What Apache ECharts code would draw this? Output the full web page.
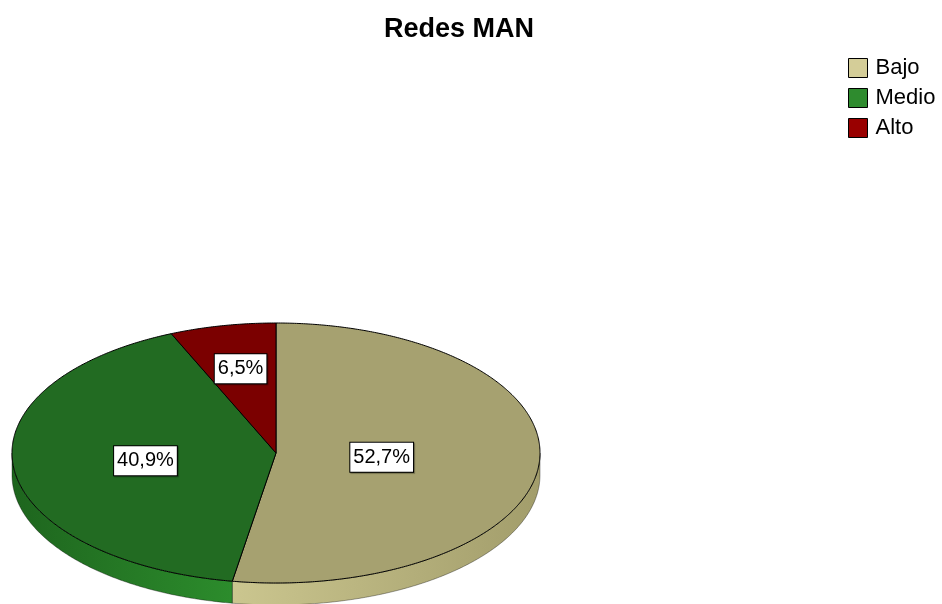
<!DOCTYPE html>
<html>
<head>
<meta charset="utf-8">
<script src="https://cdn.jsdelivr.net/npm/echarts@6/dist/echarts.min.js"></script>
<style>html,body{margin:0;padding:0;background:#fff}#c{width:942px;height:604px}</style>
</head>
<body>
<div id="c"></div>
<script>
const title = 'Redes MAN';
const categories = ['Bajo', 'Medio', 'Alto'];
const percentages = [52.7, 40.9, 6.5];

const topColors = ['#A6A170', '#226B22', '#7B0000'];
const sideLight = ['#CBC68F', '#2C8C2C', '#990000'];
const sideDark = ['#A29D6B', '#1E651E', '#5E0000'];
const legendColors = ['#D4CD98', '#2E8B2E', '#990000'];

const DEPTH = 22;
const FONT = 'Liberation Sans, Arial, sans-serif';

const total = percentages.reduce((a, b) => a + b, 0);
let acc = 0;
const slices = percentages.map(v => {
  const s = acc / total * 360;
  acc += v;
  return [s, acc / total * 360, v];
});

function fmt(v) { return v.toFixed(1).replace('.', ',') + '%'; }

function arcPts(api, a, b, dy) {
  const pts = [];
  const n = Math.max(2, Math.ceil((b - a) / 0.5));
  for (let i = 0; i <= n; i++) {
    const t = (a + (b - a) * i / n) * Math.PI / 180;
    const p = api.coord([Math.sin(t), Math.cos(t)]);
    pts.push([p[0], p[1] + dy]);
  }
  return pts;
}

function makeRender(idx) {
  return function (params, api) {
    const s = api.value(0), e = api.value(1), v = api.value(2);
    const children = [];
    const a = Math.max(s, 90), b = Math.min(e, 270);
    if (a < b) {
      const top = arcPts(api, a, b, 0);
      const bot = arcPts(api, a, b, DEPTH).reverse();
      const leftIsLight = idx === 0;
      children.push({
        type: 'polygon',
        z2: 1,
        shape: { points: top.concat(bot) },
        style: {
          fill: new echarts.graphic.LinearGradient(0, 0, 1, 0, [
            { offset: 0, color: leftIsLight ? sideLight[idx] : sideDark[idx] },
            { offset: 1, color: leftIsLight ? sideDark[idx] : sideLight[idx] }
          ]),
          stroke: 'rgba(0,0,0,0.35)',
          lineWidth: 1
        }
      });
    }
    const c = api.coord([0, 0]);
    const face = [c].concat(arcPts(api, s, e, 0));
    children.push({
      type: 'polygon',
      z2: 2,
      shape: { points: face },
      style: { fill: topColors[idx], stroke: '#000', lineWidth: 1 }
    });
    const half = (e - s) / 2 * Math.PI / 180;
    const d = 2 * Math.sin(half) / (3 * half);
    const m = (s + e) / 2 * Math.PI / 180;
    const lp = api.coord([d * Math.sin(m), d * Math.cos(m)]);
    children.push({
      type: 'text',
      z2: 5,
      x: lp[0], y: lp[1],
      style: {
        text: fmt(v),
        font: '20px ' + FONT,
        fill: '#000',
        align: 'center',
        verticalAlign: 'middle',
        backgroundColor: '#fff',
        borderColor: '#000',
        borderWidth: 1,
        padding: [5, 3, 4, 3],
        shadowColor: 'rgba(0,0,0,0.35)',
        shadowOffsetX: 1,
        shadowOffsetY: 1,
        shadowBlur: 1
      }
    });
    return { type: 'group', children };
  };
}

const chart = echarts.init(document.getElementById('c'), null, { renderer: 'canvas' });
chart.setOption({
  animation: false,
  backgroundColor: '#fff',
  title: {
    text: title,
    left: 384,
    top: 16,
    padding: 0,
    textStyle: { fontFamily: FONT, fontSize: 27, fontWeight: 'bold', color: '#000' }
  },
  legend: {
    orient: 'vertical',
    left: 848,
    top: 57,
    padding: 0,
    itemWidth: 19,
    itemHeight: 19,
    itemGap: 8,
    icon: 'rect',
    selectedMode: false,
    textStyle: { fontFamily: FONT, fontSize: 22, lineHeight: 19, color: '#000', padding: [0, 0, 0, 3] },
    data: categories.map((n, i) => ({
      name: n,
      itemStyle: { color: legendColors[i], borderColor: '#000', borderWidth: 1 }
    }))
  },
  grid: { left: 12, right: 402, top: 323, bottom: 21 },
  xAxis: { type: 'value', min: -1, max: 1, show: false },
  yAxis: { type: 'value', min: -1, max: 1, show: false },
  series: categories.map((n, i) => ({
    name: n,
    type: 'custom',
    clip: false,
    itemStyle: { color: legendColors[i] },
    renderItem: makeRender(i),
    data: [slices[i]]
  }))
});
</script>
</body>
</html>
